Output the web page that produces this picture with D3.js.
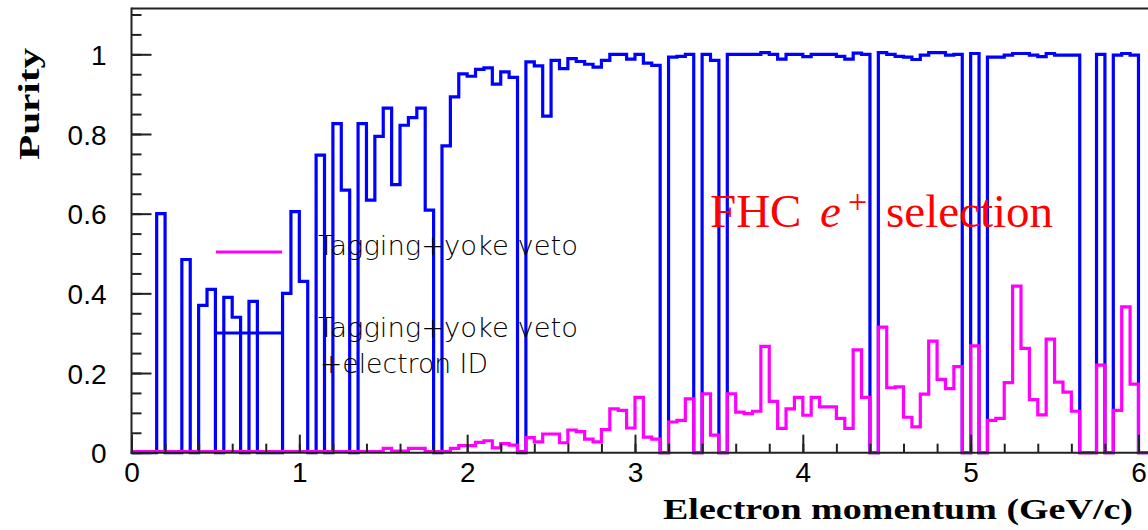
<!DOCTYPE html>
<html>
<head>
<meta charset="utf-8">
<script src="https://cdn.jsdelivr.net/npm/d3@7"></script>
<style>
  html, body { margin: 0; padding: 0; background: #fff; }
  svg { display: block; }
</style>
</head>
<body>
<svg id="chart" width="1148" height="530"></svg>
<script>
// ---- data ----
const binWidth = 0.05;
const binStart = 0;
// Tagging+yoke veto+electron ID (blue)
const purityEID = [
  0, 0, 0, 0.60, 0, 0, 0.485, 0, 0.37, 0.41,
  0, 0.39, 0.34, 0, 0.38, 0, 0, 0, 0.40, 0.605,
  0.43, 0, 0.747, 0, 0.826, 0.659, 0, 0.826, 0.634, 0.794,
  0.865, 0.673, 0.822, 0.841, 0.865, 0.609, 0, 0.77, 0.893, 0.951,
  0.945, 0.962, 0.966, 0.925, 0.956, 0.942, 0, 0.981, 0.971, 0.845,
  0.985, 0.964, 0.989, 0.982, 0.975, 0.968, 0.985, 1.0, 1.0, 0.988,
  1.0, 0.978, 0.972, 0, 0.993, 0.995, 1.0, 0, 1.0, 0.985,
  0, 1.0, 1.0, 1.0, 1.0, 1.004, 1.0, 0.988, 1.0, 1.0,
  0.994, 1.0, 1.0, 1.0, 0.995, 0.988, 1.003, 1.0, 0, 1.004,
  1.0, 0.995, 0.993, 0.987, 0.998, 1.004, 1.004, 0.998, 1.0, 0,
  1.002, 0, 0.993, 0.993, 0.998, 1.002, 1.002, 0.998, 0.994, 1.002,
  0.998, 0.998, 0.998, 0, 0, 1.0, 0, 0.998, 1.002, 0.998,
  0, 0
];
// Tagging+yoke veto (magenta)
const purityVeto = [
  0.003, 0.003, 0.003, 0.003, 0.003, 0.003, 0.003, 0.003, 0.003, 0.003,
  0.003, 0.003, 0.003, 0.003, 0.003, 0.003, 0.003, 0.003, 0.003, 0.003,
  0.003, 0.003, 0.003, 0.003, 0.003, 0.003, 0.003, 0.003, 0.003, 0.003,
  0.011, 0.004, 0.004, 0.011, 0.011, 0.003, 0.003, 0.003, 0.011, 0.018,
  0.018, 0.026, 0.030, 0.012, 0.023, 0.019, 0.003, 0.038, 0.027, 0.047,
  0.047, 0.025, 0.057, 0.053, 0.034, 0.027, 0.058, 0.110, 0.106, 0.062,
  0.139, 0.039, 0.034, 0, 0.077, 0.081, 0.135, 0, 0.148, 0.044,
  0, 0.148, 0.102, 0.098, 0.104, 0.267, 0.129, 0.061, 0.110, 0.139,
  0.094, 0.139, 0.115, 0.115, 0.086, 0.061, 0.258, 0.139, 0, 0.315,
  0.163, 0.165, 0.089, 0.065, 0.147, 0.280, 0.184, 0.161, 0.216, 0,
  0.268, 0, 0.081, 0.086, 0.176, 0.418, 0.262, 0.133, 0.095, 0.285,
  0.177, 0.152, 0.104, 0, 0, 0.220, 0, 0.106, 0.366, 0.172,
  0, 0
];
const xMajorTicks = [0, 1, 2, 3, 4, 5, 6];
const yMajorTicks = [0, 0.2, 0.4, 0.6, 0.8, 1];
const yTickLabels = ["0", "0.2", "0.4", "0.6", "0.8", "1"];
const legendLabels = ["Tagging+yoke veto", "Tagging+yoke veto", "+electron ID"];

// ---- layout ----
const svg = d3.select("#chart");
const plotLeft = 131.5, plotBottom = 452.7, plotTop = 8.5;
const pxPerGeV = 167.83;
const xMax = 6.1;
const yMax = 1.115;
const x = d3.scaleLinear().domain([0, xMax]).range([plotLeft, plotLeft + xMax * pxPerGeV]);
const y = d3.scaleLinear().domain([0, yMax]).range([plotBottom, plotTop]);

function histPath(vals) {
  const pts = [];
  vals.forEach((v, i) => {
    const x0 = binStart + i * binWidth;
    pts.push([x(x0), y(v)]);
    pts.push([x(x0 + binWidth), y(v)]);
  });
  return d3.line()(pts);
}

// histograms
svg.append("path").attr("d", histPath(purityEID))
  .attr("fill", "none").attr("stroke", "#0000ff").attr("stroke-width", 3.2);
svg.append("path").attr("d", histPath(purityVeto))
  .attr("fill", "none").attr("stroke", "#ff00ff").attr("stroke-width", 3.2);

// frame
const frameColor = "#222";
svg.append("line").attr("x1", plotLeft).attr("x2", 1160).attr("y1", plotTop).attr("y2", plotTop)
  .attr("stroke", frameColor).attr("stroke-width", 2);

const tickFont = "'Liberation Sans', Arial, sans-serif";
const tickFontSize = 28;

// y axis
const yMinor = d3.range(0, 1.1001, 0.05).map(d => +d.toFixed(2));
svg.append("g").attr("transform", `translate(${plotLeft},0)`)
  .call(d3.axisLeft(y).tickValues(yMinor).tickSize(-10).tickFormat(""))
  .call(g => g.select(".domain").remove())
  .selectAll("line").attr("stroke", frameColor).attr("stroke-width", 2);
const yAx = svg.append("g").attr("transform", `translate(${plotLeft},0)`)
  .call(d3.axisLeft(y).tickValues(yMajorTicks).tickSize(-20).tickPadding(25)
    .tickFormat((d, i) => yTickLabels[i]));
yAx.select(".domain").remove();
yAx.selectAll("line").attr("stroke", frameColor).attr("stroke-width", 2);
yAx.selectAll("text").attr("font-family", tickFont)
  .attr("font-size", tickFontSize).attr("fill", "#000").attr("dy", "0.36em");
svg.append("line").attr("x1", plotLeft).attr("x2", plotLeft).attr("y1", plotTop - 1).attr("y2", plotBottom + 1)
  .attr("stroke", frameColor).attr("stroke-width", 2);

// x axis
const xMinor = d3.range(0, 6.1, 0.2).map(d => +d.toFixed(2));
svg.append("g").attr("transform", `translate(0,${plotBottom})`)
  .call(d3.axisBottom(x).tickValues(xMinor).tickSize(-9).tickFormat(""))
  .call(g => g.select(".domain").remove())
  .selectAll("line").attr("stroke", frameColor).attr("stroke-width", 2);
const xAx = svg.append("g").attr("transform", `translate(0,${plotBottom})`)
  .call(d3.axisBottom(x).tickValues(xMajorTicks).tickSize(-18).tickPadding(9)
    .tickFormat(d3.format("d")));
xAx.select(".domain").remove();
xAx.selectAll("line").attr("stroke", frameColor).attr("stroke-width", 2);
xAx.selectAll("text").attr("font-family", tickFont)
  .attr("font-size", tickFontSize).attr("fill", "#000");
svg.append("line").attr("x1", plotLeft - 1).attr("x2", 1160).attr("y1", plotBottom).attr("y2", plotBottom)
  .attr("stroke", frameColor).attr("stroke-width", 2);

// axis titles
svg.append("text")
  .attr("transform", "translate(39,104) rotate(-90)")
  .attr("text-anchor", "middle")
  .attr("font-family", "'Liberation Serif', 'DejaVu Serif', serif")
  .attr("font-weight", "bold").attr("font-size", 30)
  .attr("textLength", 112).attr("lengthAdjust", "spacingAndGlyphs")
  .text("Purity");
svg.append("text")
  .attr("x", 663).attr("y", 519)
  .attr("font-family", "'Liberation Serif', 'DejaVu Serif', serif")
  .attr("font-weight", "bold").attr("font-size", 30)
  .attr("textLength", 470).attr("lengthAdjust", "spacingAndGlyphs")
  .text("Electron momentum (GeV/c)");

// legend
const legend = svg.append("g");
const legColors = ["#ff00ff", "#0000ff"];
const legY = [252, 333];
legColors.forEach((c, i) => {
  legend.append("line").attr("x1", 216).attr("x2", 282).attr("y1", legY[i]).attr("y2", legY[i])
    .attr("stroke", c).attr("stroke-width", 3.2);
});
const legFont = "'DejaVu Sans', sans-serif";
const legTextY = [255, 337, 373];
const legTextX = [318, 318, 320];
const legTextLen = [260, 260, 168];
legendLabels.forEach((t, i) => {
  legend.append("text").attr("x", legTextX[i]).attr("y", legTextY[i])
    .attr("font-family", legFont).attr("font-weight", 200).attr("font-size", 27)
    .attr("textLength", legTextLen[i]).attr("lengthAdjust", "spacingAndGlyphs")
    .attr("fill", "#000")
    .text(t);
});

// annotation
const annFont = "'Liberation Serif', 'DejaVu Serif', serif";
const ann = svg.append("text").attr("y", 227)
  .attr("font-family", annFont).attr("font-size", 47).attr("fill", "#ff0000");
ann.append("tspan").attr("x", 710).text("FHC");
ann.append("tspan").attr("x", 820).attr("font-style", "italic").text("e");
ann.append("tspan").attr("x", 848).attr("y", 213).attr("font-size", 34).text("+");
ann.append("tspan").attr("x", 886).attr("y", 227)
  .attr("textLength", 167).attr("lengthAdjust", "spacingAndGlyphs").text("selection");
</script>
</body>
</html>
